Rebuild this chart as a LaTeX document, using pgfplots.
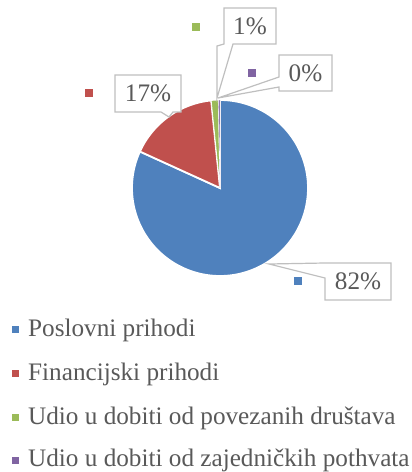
\documentclass[border=0pt]{standalone}
\usepackage{pgfplots}
\pgfplotsset{compat=1.18}
\usepackage{fontspec}
\setmainfont{Liberation Serif}
\definecolor{cBlue}{HTML}{4F81BD}
\definecolor{cRed}{HTML}{C0504D}
\definecolor{cGreen}{HTML}{9BBB59}
\definecolor{cPurple}{HTML}{8064A2}
\definecolor{cText}{HTML}{595959}
\definecolor{cBox}{HTML}{BFBFBF}
% shares (percent)
\def\vA{81.8}% Poslovni prihodi
\def\vB{16.6}% Financijski prihodi
\def\vC{1.3}% Udio u dobiti od povezanih drustava
\def\vD{0.3}% Udio u dobiti od zajednickih pothvata
\pgfmathsetmacro\aA{90}
\pgfmathsetmacro\aB{\aA-3.6*\vA}
\pgfmathsetmacro\aC{\aB-3.6*\vB}
\pgfmathsetmacro\aD{\aC-3.6*\vC}
\pgfmathsetmacro\aE{\aD-3.6*\vD}
\def\cx{220}\def\cy{284}\def\rr{88}
\newcommand\lfont{\fontsize{25.2bp}{30bp}\selectfont}
\begin{document}
\begin{tikzpicture}
\begin{axis}[
  x=1bp, y=1bp, xmin=0, xmax=412, ymin=0, ymax=472,
  hide axis, clip=false, scale only axis,
  anchor=south west, at={(0,0)},
]
\pgfplotsset{every axis plot/.append style={draw=white, line width=1.8bp}}
\addplot[fill=cBlue, domain=\aB:\aA, samples=150, variable=\t]
  ({\cx+\rr*cos(\t)},{\cy+\rr*sin(\t)}) -- (axis cs:\cx,\cy) -- cycle;
\addplot[fill=cRed, domain=\aC:\aB, samples=40, variable=\t]
  ({\cx+\rr*cos(\t)},{\cy+\rr*sin(\t)}) -- (axis cs:\cx,\cy) -- cycle;
\addplot[fill=cGreen, line width=0.8bp, domain=\aD:\aC, samples=5, variable=\t]
  ({\cx+\rr*cos(\t)},{\cy+\rr*sin(\t)}) -- (axis cs:\cx,\cy) -- cycle;
\addplot[fill=cPurple, line width=0.4bp, domain=\aE:\aD, samples=3, variable=\t]
  ({\cx+\rr*cos(\t)},{\cy+\rr*sin(\t)}) -- (axis cs:\cx,\cy) -- cycle;

% callouts (pixel coords, y measured from bottom = 472 - y)
\begin{scope}[draw=cBox, line width=1.2bp, fill=white, line join=miter]
\filldraw (axis cs:325,209) -- (axis cs:269,208) -- (axis cs:325,194) -- (axis cs:325,172)
  -- (axis cs:391,172) -- (axis cs:391,209) -- cycle;
\filldraw (axis cs:115,397) -- (axis cs:181,397) -- (axis cs:181,360) -- (axis cs:173,360)
  -- (axis cs:169,355) -- (axis cs:161,360) -- (axis cs:115,360) -- cycle;
\filldraw (axis cs:224,464) -- (axis cs:276,464) -- (axis cs:276,428) -- (axis cs:233,428)
  -- (axis cs:217,374) -- (axis cs:217,426) -- (axis cs:224,428) -- cycle;
\filldraw (axis cs:279,417) -- (axis cs:332,417) -- (axis cs:332,381) -- (axis cs:279,381)
  -- (axis cs:279,385) -- (axis cs:218,374) -- (axis cs:279,395) -- cycle;
\end{scope}
\begin{scope}[every node/.style={font=\lfont, text=cText, inner sep=0pt}]
\node at (axis cs:358,190.5) {82\%};
\node at (axis cs:148,378.5) {17\%};
\node at (axis cs:250,446) {1\%};
\node at (axis cs:305.5,399) {0\%};
\end{scope}
% data-label markers
\fill[cBlue] (axis cs:294,187) rectangle (axis cs:302,195);
\fill[cRed] (axis cs:85,375) rectangle (axis cs:93,383);
\fill[cGreen] (axis cs:192,441) rectangle (axis cs:200,449);
\fill[cPurple] (axis cs:248,395) rectangle (axis cs:256,403);

% legend
\begin{scope}[every node/.style={font=\lfont, text=cText, inner sep=0pt, anchor=base west}]
\fill[cBlue] (axis cs:11.5,139.2) rectangle (axis cs:18.5,146.2);
\node at (axis cs:28,135.5) {Poslovni prihodi};
\fill[cRed] (axis cs:11.5,95.2) rectangle (axis cs:18.5,102.2);
\node at (axis cs:28,91.3) {Financijski prihodi};
\fill[cGreen] (axis cs:11.5,51.2) rectangle (axis cs:18.5,58.2);
\node at (axis cs:28,47.3) {Udio u dobiti od povezanih društava};
\fill[cPurple] (axis cs:11.5,8.5) rectangle (axis cs:18.5,15.5);
\node at (axis cs:28,5.7) {Udio u dobiti od zajedničkih pothvata};
\end{scope}
\end{axis}
\pgfresetboundingbox
\path (0,0) rectangle (412bp,472bp);
\end{tikzpicture}
\end{document}
